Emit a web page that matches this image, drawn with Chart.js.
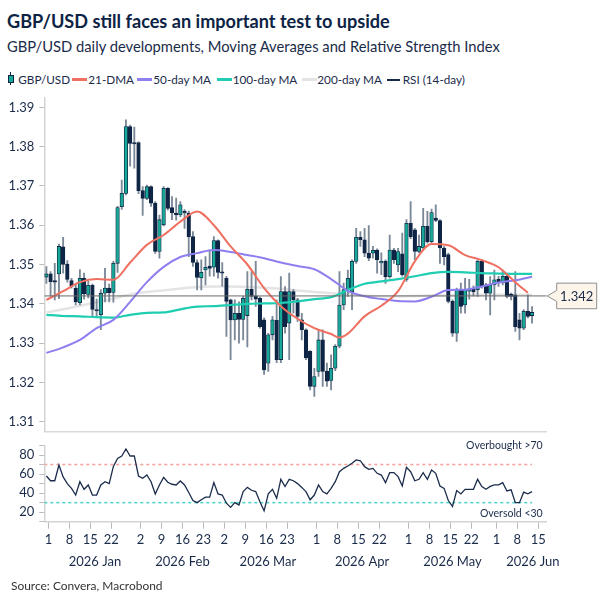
<!DOCTYPE html>
<html><head><meta charset="utf-8">
<script src="https://cdn.jsdelivr.net/npm/chart.js@4.4.1/dist/chart.umd.min.js"></script>
<style>
html,body{margin:0;padding:0;background:#fff}
body{width:604px;height:604px;position:relative;overflow:hidden;font-family:Lato,"Noto Sans",sans-serif;color:#1a2b4a}
.t{position:absolute;white-space:nowrap;line-height:1}
#title{left:7px;top:12px;font-size:19px;font-weight:700;color:#0d2345}
#sub{left:7px;top:38.5px;font-size:16.5px;color:#1a2b4a}
.lg{position:absolute;top:74px;font-size:12.5px;line-height:1;white-space:nowrap;color:#1a2b4a}
.sw{position:absolute;top:78px;height:3px}
#src{left:11px;top:579.5px;font-size:12px;color:#333}
#c1{position:absolute;left:0;top:90px}
#c2{position:absolute;left:0;top:435px}
#icoW{position:absolute;left:10px;top:72px;width:1.4px;height:13px;background:#0f2545}
#icoB{position:absolute;left:8px;top:75px;width:4px;height:6px;background:#17a897;border:1px solid #0f2545}
</style></head><body>
<div id="title" class="t">GBP/USD still faces an important test to upside</div>
<div id="sub" class="t">GBP/USD daily developments, Moving Averages and Relative Strength Index</div>
<div id="icoW"></div><div id="icoB"></div>
<div class="lg" id="l0" style="left:18.3px">GBP/USD</div>
<div class="sw" style="left:71.7px;width:15px;background:#ef6f61"></div>
<div class="lg" id="l1" style="left:88.3px">21-DMA</div>
<div class="sw" style="left:137.3px;width:15px;background:#8e7ff0"></div>
<div class="lg" id="l2" style="left:153.3px">50-day MA</div>
<div class="sw" style="left:216.7px;width:15px;background:#1fcdb2"></div>
<div class="lg" id="l3" style="left:232.7px">100-day MA</div>
<div class="sw" style="left:301.7px;width:15px;background:#e4e4e4"></div>
<div class="lg" id="l4" style="left:317.3px">200-day MA</div>
<div class="sw" style="left:386.7px;width:13px;height:2px;top:78.5px;background:#1b2c4b"></div>
<div class="lg" id="l5" style="left:402.7px">RSI (14-day)</div>
<canvas id="c1" width="604" height="345"></canvas>
<canvas id="c2" width="604" height="160"></canvas>
<div id="src" class="t">Source: Convera, Macrobond</div>
<script>
// ---------- DATA ----------
const gbpOpen = [1.3468,1.3476,1.3459,1.3476,1.3545,1.3501,1.3459,1.3440,1.3403,1.3465,
1.3424,1.3447,1.3385,1.3372,1.3427,1.3440,1.3429,1.3503,1.3647,1.3681,
1.3851,1.3810,1.3810,1.3688,1.3668,1.3698,1.3656,1.3533,1.3601,1.3694,
1.3645,1.3631,1.3626,1.3635,1.3631,1.3571,1.3505,1.3466,1.3486,1.3496,
1.3493,1.3561,1.3480,1.3465,1.3410,1.3359,1.3376,1.3360,1.3370,1.3437,
1.3420,1.3414,1.3359,1.3249,1.3321,1.3358,1.3258,1.3431,1.3351,1.3431,
1.3410,1.3359,1.3334,1.3279,1.3190,1.3228,1.3308,1.3228,1.3205,1.3236,
1.3292,1.3397,1.3436,1.3431,1.3508,1.3569,1.3563,1.3529,1.3529,1.3537,
1.3504,1.3508,1.3469,1.3537,1.3499,1.3527,1.3462,1.3605,1.3588,1.3533,
1.3542,1.3597,1.3558,1.3618,1.3612,1.3542,1.3525,1.3406,1.3325,1.3436,
1.3397,1.3432,1.3438,1.3436,1.3508,1.3448,1.3427,1.3448,1.3463,1.3453,
1.3470,1.3425,1.3423,1.3359,1.3338,1.3381,1.3370];
const gbpHigh = [1.3495,1.3482,1.3503,1.3552,1.3569,1.3510,1.3465,1.3450,1.3487,1.3478,
1.3458,1.3450,1.3412,1.3436,1.3490,1.3450,1.3508,1.3648,1.3715,1.3868,
1.3855,1.3850,1.3812,1.3698,1.3702,1.3700,1.3660,1.3626,1.3698,1.3696,
1.3673,1.3669,1.3660,1.3640,1.3636,1.3584,1.3512,1.3512,1.3520,1.3537,
1.3571,1.3563,1.3505,1.3470,1.3412,1.3410,1.3405,1.3419,1.3482,1.3482,
1.3508,1.3418,1.3364,1.3325,1.3368,1.3410,1.3469,1.3444,1.3478,1.3436,
1.3414,1.3376,1.3336,1.3281,1.3236,1.3334,1.3334,1.3249,1.3270,1.3296,
1.3482,1.3453,1.3486,1.3512,1.3592,1.3584,1.3592,1.3599,1.3546,1.3540,
1.3530,1.3512,1.3575,1.3541,1.3541,1.3580,1.3614,1.3660,1.3592,1.3575,
1.3643,1.3635,1.3641,1.3652,1.3614,1.3546,1.3529,1.3410,1.3440,1.3453,
1.3465,1.3462,1.3446,1.3512,1.3512,1.3452,1.3469,1.3486,1.3470,1.3486,
1.3474,1.3427,1.3482,1.3376,1.3385,1.3423,1.3393];
const gbpLow = [1.3452,1.3420,1.3410,1.3413,1.3478,1.3455,1.3440,1.3397,1.3397,1.3412,
1.3415,1.3368,1.3368,1.3334,1.3405,1.3405,1.3404,1.3480,1.3640,1.3677,
1.3750,1.3745,1.3680,1.3625,1.3665,1.3648,1.3528,1.3516,1.3598,1.3638,
1.3614,1.3613,1.3622,1.3592,1.3520,1.3495,1.3435,1.3435,1.3448,1.3470,
1.3470,1.3465,1.3445,1.3317,1.3258,1.3308,1.3300,1.3308,1.3290,1.3410,
1.3393,1.3338,1.3220,1.3228,1.3308,1.3250,1.3250,1.3325,1.3258,1.3376,
1.3355,1.3308,1.3258,1.3181,1.3164,1.3215,1.3190,1.3190,1.3181,1.3230,
1.3288,1.3385,1.3419,1.3385,1.3503,1.3546,1.3520,1.3510,1.3516,1.3478,
1.3474,1.3452,1.3465,1.3503,1.3482,1.3470,1.3457,1.3566,1.3512,1.3530,
1.3537,1.3554,1.3554,1.3609,1.3503,1.3499,1.3402,1.3317,1.3304,1.3376,
1.3376,1.3412,1.3420,1.3419,1.3440,1.3410,1.3372,1.3410,1.3444,1.3448,
1.3415,1.3410,1.3330,1.3308,1.3334,1.3364,1.3351];
const gbpClose = [1.3476,1.3456,1.3455,1.3546,1.3500,1.3462,1.3445,1.3405,1.3465,1.3425,
1.3447,1.3386,1.3382,1.3427,1.3440,1.3428,1.3503,1.3645,1.3681,1.3851,
1.3808,1.3807,1.3688,1.3668,1.3698,1.3656,1.3533,1.3614,1.3694,1.3643,
1.3631,1.3626,1.3652,1.3631,1.3571,1.3505,1.3467,1.3480,1.3493,1.3490,
1.3561,1.3480,1.3478,1.3406,1.3359,1.3376,1.3360,1.3414,1.3437,1.3419,
1.3412,1.3342,1.3232,1.3321,1.3359,1.3258,1.3431,1.3342,1.3431,1.3410,
1.3368,1.3334,1.3262,1.3190,1.3215,1.3308,1.3228,1.3203,1.3236,1.3292,
1.3397,1.3436,1.3465,1.3508,1.3569,1.3563,1.3529,1.3516,1.3536,1.3512,
1.3508,1.3469,1.3537,1.3512,1.3533,1.3474,1.3605,1.3571,1.3533,1.3546,
1.3597,1.3558,1.3632,1.3612,1.3542,1.3520,1.3406,1.3325,1.3436,1.3393,
1.3436,1.3438,1.3430,1.3508,1.3444,1.3427,1.3448,1.3461,1.3454,1.3470,
1.3419,1.3419,1.3342,1.3338,1.3381,1.3368,1.3378];

// moving averages, sampled at the trading-day indices below
const ma21Days = [0,4,8,12,16,20,24,28,32,36,40,44,48,52,56,60,64,68,70,72,76,80,84,88,92,96,100,104,108,112,115];
const ma21 = [1.3410,1.3432,1.3455,1.3463,1.3461,1.3505,1.3550,1.3575,1.3609,1.3635,1.3600,1.3546,1.3500,1.3440,1.3394,1.3362,1.3338,1.3323,1.3314,1.3324,1.3368,1.3395,1.3432,1.3508,1.3552,1.3549,1.3524,1.3511,1.3493,1.3455,1.3428];
const maDays = [0,4,8,12,16,20,24,28,32,36,40,44,48,52,56,60,64,68,72,76,80,84,88,92,96,100,104,108,112,116];
const ma50 = [1.3275,1.3289,1.3308,1.3338,1.3359,1.3405,1.3455,1.3494,1.3519,1.3529,1.3537,1.3532,1.3524,1.3516,1.3505,1.3496,1.3488,1.3463,1.3433,1.3419,1.3412,1.3407,1.3406,1.3418,1.3435,1.3436,1.3444,1.3454,1.3460,1.3469];
const ma100 = [1.3372,1.3369,1.3368,1.3366,1.3365,1.3372,1.3377,1.3378,1.3386,1.3393,1.3394,1.3397,1.3400,1.3401,1.3402,1.3406,1.3412,1.3417,1.3435,1.3451,1.3457,1.3463,1.3470,1.3478,1.3481,1.3480,1.3478,1.3477,1.3476,1.3476];
const ma200 = [1.3378,1.3386,1.3395,1.3404,1.3413,1.3424,1.3430,1.3434,1.3439,1.3443,1.3444,1.3444,1.3443,1.3441,1.3438,1.3434,1.3430,1.3427,1.3424,1.3421,1.3419,1.3419,1.3420,1.3421,1.3422,1.3422,1.3423,1.3423,1.3423,1.3423];

const rsi14 = [58,53,53,69.5,57,50,45,38,52,44,
48.6,38,38,48.6,52,50,68,76.5,79,86.3,
79,79,58,55.6,59,52,39,48.6,56.6,51.4,
49.3,48.6,52.8,48.6,40.6,32.2,30,33,35.7,35.7,
51,39.2,38,29.4,25,30,27.6,41.6,46,43,
41.6,31,21.4,39.2,44,34.6,54.5,47,54.5,53,
50,46,41.6,33,38,48.6,41.6,39.2,45,52,
62.5,66,68.5,71.3,74.8,74,67.8,65,66,60.8,
59,51,61.5,61.5,57.3,47.5,67,62.5,53,54.5,
61.5,54.5,64.3,60.8,47.5,45,32.2,26,42.7,39.2,
44,44,44,54.5,47,44,47,48.6,48.6,51,
42.3,43.4,30,30,41,39.2,41.6];

const levelValue = 1.342;          // marked level
const overbought = 70, oversold = 30;

const priceTicks = [1.31,1.32,1.33,1.34,1.35,1.36,1.37,1.38,1.39];
const rsiTicks = [10,20,30,40,50,60,70,80,90];
const rsiTickLabels = [20,40,60,80];
// x-axis: trading-day index of each labelled date, and its label
const tickDays = [0,5,10,15,22,27,32,37,42,47,52,57,64,69,74,79,86,91,96,101,107,112,117];
const tickLabels = ["1","8","15","22","2","9","16","23","2","9","16","23","1","8","15","22","1","8","15","22","1","8","15"];
const monthNames = ["2026 Jan","2026 Feb","2026 Mar","2026 Apr","2026 May","2026 Jun"];
const monthCentre = [11.6,32.5,52.9,75.4,97.0,116.2];

// ---------- HTML text fitting ----------
function fitW(el, w){ const r = el.getBoundingClientRect().width; const fs = parseFloat(getComputedStyle(el).fontSize); el.style.fontSize = (fs*w/r)+'px'; }
fitW(document.getElementById('title'), 383);
fitW(document.getElementById('sub'), 493);
fitW(document.getElementById('src'), 151.6);
(function(){ const tg=[50,44.4,58.4,64.6,65.4,64]; let a=0,t=0; tg.forEach((w,k)=>{a+=document.getElementById('l'+k).getBoundingClientRect().width; t+=w;}); const fs=12.5*t/a; tg.forEach((w,k)=>document.getElementById('l'+k).style.fontSize=fs+'px'); })();

// ---------- CHARTS ----------
Chart.defaults.font.family = "Lato, 'Noto Sans', sans-serif";
Chart.defaults.color = '#1a2b4a';
const FONT = {size: 13};
const XMIN = -0.5, XMAX = 119.5;
const UP = '#17a897', DN = '#0f2545';
const days = gbpClose.map((_, i) => i);
const bodies = days.map(i => ({x: i, y: [gbpOpen[i], gbpClose[i]]}));
const wicks = days.map(i => ({x: i, y: [gbpLow[i], gbpHigh[i]]}));
const pts = (xs, ys) => xs.map((d, k) => ({x: d, y: ys[k]}));
const lineDs = (data, color, w, order) => ({type: 'line', data, borderColor: color, borderWidth: w, pointRadius: 0, cubicInterpolationMode: 'monotone', order});
const fixY = w => s => { s.width = w; s.paddingTop = 0; s.paddingBottom = 0; };
const fixX = h => s => { s.height = h; s.paddingLeft = 0; s.paddingRight = 0; };

const callout = {
  id: 'callout',
  afterDraw(chart) {
    const {ctx, chartArea, scales: {y}} = chart;
    const py = y.getPixelForValue(levelValue);
    const x0 = chartArea.right + 0.5, bx = x0 + 9.5, bw = 40, h = 12.8;
    ctx.save();
    ctx.beginPath();
    ctx.moveTo(x0, py); ctx.lineTo(bx, py - 5.5); ctx.lineTo(bx, py - h); ctx.lineTo(bx + bw, py - h);
    ctx.lineTo(bx + bw, py + h); ctx.lineTo(bx, py + h); ctx.lineTo(bx, py + 5.5); ctx.closePath();
    ctx.fillStyle = '#fdf4ea'; ctx.fill();
    ctx.strokeStyle = '#8f8f8f'; ctx.lineWidth = 1; ctx.stroke();
    ctx.fillStyle = '#1a2b4a'; ctx.font = "13px Lato, 'Noto Sans', sans-serif";
    ctx.textAlign = 'center'; ctx.textBaseline = 'middle';
    ctx.fillText(levelValue.toFixed(3), bx + bw / 2, py + 0.5);
    ctx.restore();
  }
};

new Chart(document.getElementById('c1'), {
  type: 'bar',
  data: {datasets: [
    lineDs(pts(maDays, ma200), '#e4e4e4', 2.5, 9),
    {type: 'bar', data: wicks, backgroundColor: '#7b8898', barThickness: 1.2, grouped: false, order: 7},
    {type: 'bar', data: bodies, backgroundColor: c => { const r = c.raw; return r && r.y[1] >= r.y[0] ? UP : DN; },
     borderColor: DN, borderWidth: 0.8, borderSkipped: false, barThickness: 3.6, minBarLength: 1.2, grouped: false, order: 6},
    lineDs(pts(maDays, ma100), '#1fcdb2', 2.2, 5),
    lineDs(pts(maDays, ma50), '#8e7ff0', 2, 4),
    lineDs(pts(ma21Days, ma21), '#ef6f61', 2, 3),
    {type: 'line', data: [{x: XMIN, y: levelValue}, {x: XMAX, y: levelValue}], borderColor: '#6b6b6b', borderWidth: 1, pointRadius: 0, order: 2}
  ]},
  options: {
    responsive: false, animation: false, events: [],
    plugins: {legend: {display: false}, tooltip: {enabled: false}},
    layout: {padding: {top: 7.5, right: 57.3, bottom: 3.5, left: 0}},
    scales: {
      x: {type: 'linear', min: XMIN, max: XMAX, offset: false, ticks: {display: false}, grid: {display: false},
          border: {display: true, color: '#d9d9d9', width: 1.5}, afterFit: fixX(0)},
      y: {min: 1.3075, max: 1.3925,
          afterBuildTicks: s => { s.ticks = priceTicks.map(v => ({value: v})); },
          ticks: {autoSkip: false, callback: v => v.toFixed(2), font: FONT, color: '#1a2b4a', padding: 5},
          grid: {drawOnChartArea: false, tickLength: 5, color: '#bdbdbd'},
          border: {color: '#d3d3d3', width: 1.5}, afterFit: fixY(44.3)}
    }
  },
  plugins: [callout]
});

const rsiNotes = {
  id: 'rsiNotes',
  afterDraw(chart) {
    const {ctx, chartArea, scales: {y}} = chart;
    ctx.save();
    ctx.fillStyle = '#1a2b4a'; ctx.font = "10.5px Lato, 'Noto Sans', sans-serif";
    ctx.textAlign = 'right'; ctx.textBaseline = 'middle';
    ctx.fillText('Overbought >' + overbought, chartArea.right - 4, y.getPixelForValue(overbought) - 19);
    ctx.fillText('Oversold <' + oversold, chartArea.right - 4, y.getPixelForValue(oversold) + 10.6);
    ctx.restore();
  }
};

new Chart(document.getElementById('c2'), {
  type: 'line',
  data: {datasets: [
    {data: days.map(i => ({x: i, y: rsi14[i]})), borderColor: '#1b2c4b', borderWidth: 1.3, pointRadius: 0, tension: 0},
    {data: [{x: XMIN, y: overbought}, {x: days.length - 1, y: overbought}], borderColor: '#f3a59e', borderDash: [3, 3], borderWidth: 1.6, pointRadius: 0},
    {data: [{x: XMIN, y: oversold}, {x: days.length - 1, y: oversold}], borderColor: '#4fd6c6', borderDash: [3, 3], borderWidth: 1.6, pointRadius: 0}
  ]},
  options: {
    responsive: false, animation: false, events: [],
    plugins: {legend: {display: false}, tooltip: {enabled: false}},
    layout: {padding: {top: 10.5, right: 57.3, bottom: 19.3, left: 0}},
    scales: {
      x: {type: 'linear', min: XMIN, max: XMAX, offset: false,
          afterBuildTicks: s => { s.ticks = tickDays.map(d => ({value: d + 0.5})); },
          ticks: {autoSkip: false, maxRotation: 0, minRotation: 0, callback: (v, i) => tickLabels[i], font: FONT, color: '#1a2b4a', padding: 3},
          grid: {drawOnChartArea: false, tickLength: 7, color: '#b8b8b8'},
          border: {color: '#d3d3d3', width: 1.5}, afterFit: fixX(30)},
      x2: {type: 'linear', position: 'bottom', min: XMIN, max: XMAX, offset: false,
          afterBuildTicks: s => { s.ticks = monthCentre.map(v => ({value: v})); },
          ticks: {autoSkip: false, maxRotation: 0, minRotation: 0, callback: (v, i) => monthNames[i], font: FONT, color: '#1a2b4a', padding: 2},
          grid: {display: false, drawTicks: false}, border: {display: false}, afterFit: fixX(24)},
      y: {min: 10, max: 90,
          afterBuildTicks: s => { s.ticks = rsiTicks.map(v => ({value: v})); },
          ticks: {autoSkip: false, callback: v => rsiTickLabels.includes(v) ? String(v) : '', font: FONT, color: '#1a2b4a', padding: 5},
          grid: {drawOnChartArea: false, tickLength: 5, color: '#bdbdbd'},
          border: {color: '#d3d3d3', width: 1.5}, afterFit: fixY(44.3)}
    }
  },
  plugins: [rsiNotes]
});
</script>
</body></html>
